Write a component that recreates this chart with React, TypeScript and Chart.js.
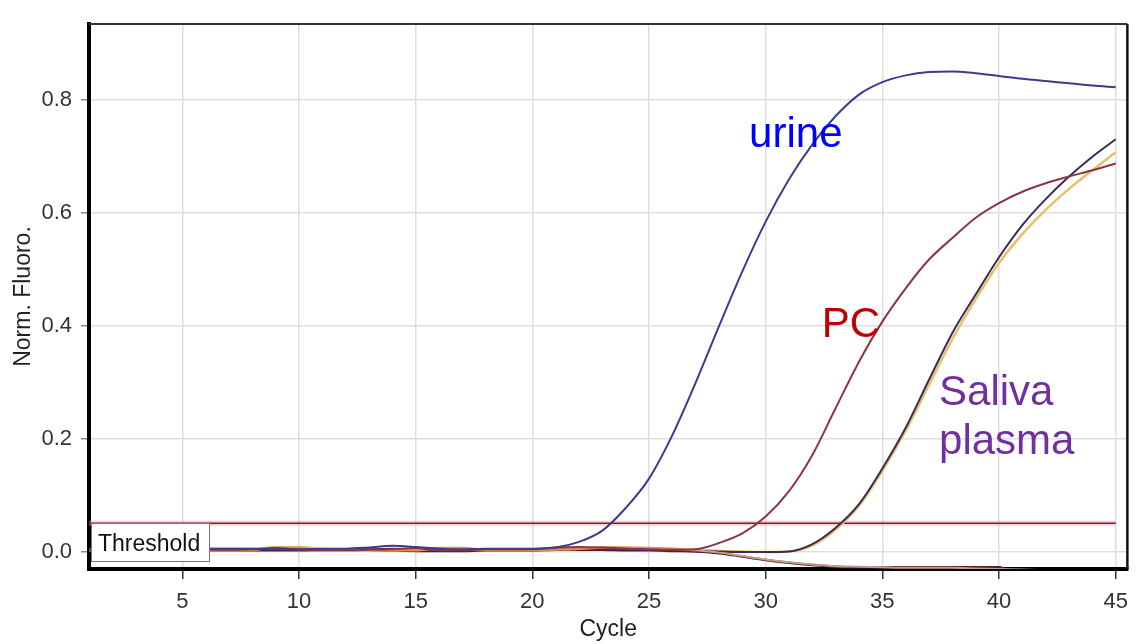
import React, { useEffect, useRef } from "react";
import { Chart, registerables } from "chart.js";

Chart.register(...registerables);

// ---------- data ----------
const cycles = [
  1, 2, 3, 4, 5, 6, 7, 8, 9, 10, 11, 12, 13, 14, 15, 16, 17, 18, 19, 20, 21, 22, 23,
  24, 25, 26, 27, 28, 29, 30, 31, 32, 33, 34, 35, 36, 37, 38, 39, 40, 41, 42, 43, 44, 45,
];

const urine = [
  0.005, 0.006, 0.006, 0.006, 0.006, 0.006, 0.006, 0.006, 0.005, 0.005, 0.006, 0.006, 0.008, 0.011, 0.009,
  0.006, 0.005, 0.006, 0.006, 0.006, 0.008, 0.018, 0.038, 0.078, 0.13, 0.207, 0.3, 0.4, 0.497, 0.585,
  0.66, 0.722, 0.772, 0.81, 0.832, 0.844, 0.85, 0.851, 0.848, 0.843, 0.838, 0.834, 0.83, 0.826, 0.823,
];

const pc = [
  0.004, 0.004, 0.004, 0.004, 0.004, 0.004, 0.004, 0.005, 0.007, 0.004, 0.003, 0.003, 0.004, 0.005, 0.007,
  0.003, 0.003, 0.005, 0.005, 0.005, 0.008, 0.009, 0.008, 0.006, 0.005, 0.004, 0.005, 0.016, 0.033, 0.063,
  0.108, 0.172, 0.255, 0.337, 0.408, 0.467, 0.518, 0.556, 0.592, 0.618, 0.638, 0.653, 0.665, 0.676, 0.688,
];

const saliva = [
  0.004, 0.004, 0.004, 0.004, 0.004, 0.004, 0.004, 0.004, 0.004, 0.004, 0.005, 0.005, 0.005, 0.006, 0.005,
  0.004, 0.004, 0.005, 0.005, 0.005, 0.006, 0.006, 0.005, 0.004, 0.004, 0.003, 0.002, 0.001, 0.0, 0.0,
  0.001, 0.014, 0.043, 0.085, 0.148, 0.22, 0.305, 0.388, 0.456, 0.522, 0.579, 0.625, 0.665, 0.7, 0.731,
];

const plasma = [
  0.005, 0.005, 0.005, 0.005, 0.006, 0.006, 0.006, 0.006, 0.008, 0.009, 0.006, 0.005, 0.005, 0.005, 0.005,
  0.004, 0.004, 0.005, 0.005, 0.005, 0.005, 0.006, 0.007, 0.007, 0.006, 0.005, 0.004, 0.002, 0.001, 0.0,
  0.001, 0.012, 0.04, 0.082, 0.144, 0.215, 0.296, 0.377, 0.448, 0.512, 0.563, 0.606, 0.643, 0.676, 0.708,
];

const ntcTan = [
  0.003, 0.003, 0.003, 0.003, 0.003, 0.003, 0.003, 0.004, 0.008, 0.007, 0.003, 0.003, 0.003, 0.003, 0.003,
  0.007, 0.007, 0.004, 0.004, 0.004, 0.005, 0.006, 0.008, 0.008, 0.007, 0.006, 0.003, -0.001, -0.007, -0.013,
  -0.018, -0.022, -0.025, -0.026, -0.027, -0.028, -0.028, -0.028, -0.029, -0.03, -0.031, -0.032, -0.032, -0.032, -0.032,
];

const ntcDark = [
  0.003, 0.003, 0.003, 0.003, 0.003, 0.003, 0.003, 0.003, 0.003, 0.003, 0.004, 0.004, 0.004, 0.003, 0.002,
  0.002, 0.002, 0.003, 0.003, 0.003, 0.004, 0.004, 0.004, 0.003, 0.003, 0.002, 0.001, -0.002, -0.008, -0.014,
  -0.019, -0.023, -0.026, -0.027, -0.027, -0.027, -0.027, -0.027, -0.027, -0.027, -0.045, -0.045, -0.045, -0.045, -0.045,
];

const thresholdValue = 0.051;
const thresholdSpan = [1, 45];

const xTickValues = [5, 10, 15, 20, 25, 30, 35, 40, 45];
const yTickValues = [0, 0.2, 0.4, 0.6, 0.8];

const labelTexts = ["urine", "PC", "Saliva", "plasma"];
const thresholdLabel = "Threshold";

// ---------- chart ----------
const FONT = '"Liberation Sans", Arial, sans-serif';

const toPoints = (vals: number[]) => vals.map((v, i) => ({ x: cycles[i], y: v }));

const overlayPlugin = {
  id: "overlay",
  afterDatasetsDraw(chart: any) {
    const { ctx, chartArea: a, scales } = chart;
    const x = scales.x;
    const y = scales.y;
    ctx.save();

    // top & right frame
    ctx.strokeStyle = "#333";
    ctx.lineWidth = 2;
    ctx.beginPath();
    ctx.moveTo(a.left, a.top);
    ctx.lineTo(a.right, a.top);
    ctx.stroke();
    ctx.strokeStyle = "#111";
    ctx.lineWidth = 2.5;
    ctx.beginPath();
    ctx.moveTo(a.right, a.top);
    ctx.lineTo(a.right, a.bottom);
    ctx.stroke();

    // threshold label box
    const bl = a.left + 2;
    const br = x.getPixelForValue(6.16);
    const bt = y.getPixelForValue(thresholdValue) + 1;
    const bb = y.getPixelForValue(-0.018);
    ctx.fillStyle = "#fff";
    ctx.fillRect(bl, bt, br - bl, bb - bt);
    ctx.strokeStyle = "#777";
    ctx.lineWidth = 1;
    ctx.strokeRect(Math.round(bl) + 0.5, Math.round(bt) - 0.5, Math.round(br - bl), Math.round(bb - bt));
    ctx.fillStyle = "#111";
    ctx.font = `23px ${FONT}`;
    ctx.textBaseline = "alphabetic";
    ctx.textAlign = "left";
    ctx.fillText(thresholdLabel, bl + 7, y.getPixelForValue(0.0024));

    // curve annotations
    ctx.font = `42px ${FONT}`;
    ctx.fillStyle = "#0000ff";
    ctx.fillText(labelTexts[0], x.getPixelForValue(29.29), y.getPixelForValue(0.717));
    ctx.fillStyle = "#c00000";
    ctx.fillText(labelTexts[1], x.getPixelForValue(32.4), y.getPixelForValue(0.3805));
    ctx.fillStyle = "#7030a0";
    ctx.fillText(labelTexts[2], x.getPixelForValue(37.43), y.getPixelForValue(0.26));
    ctx.fillText(labelTexts[3], x.getPixelForValue(37.43), y.getPixelForValue(0.1735));

    ctx.restore();
  },
};

export default function App() {
  const canvasRef = useRef<HTMLCanvasElement | null>(null);

  useEffect(() => {
    if (!canvasRef.current) return;
    const line = (label: string, data: number[], color: string, width = 2, extra: any = {}) => ({
      label,
      data: toPoints(data),
      borderColor: color,
      backgroundColor: color,
      borderWidth: width,
      pointRadius: 0,
      cubicInterpolationMode: "monotone" as const,
      fill: false,
      ...extra,
    });

    const chart = new Chart(canvasRef.current, {
      type: "line",
      data: {
        datasets: [
          line("urine", urine, "#3c3c8e"),
          line("PC", pc, "#8e3446"),
          line("NTC", ntcTan, "#e0904a", 2.5, {
            segment: {
              borderColor: (c: any) => (c.p0.parsed.x >= 27 ? "#bf9f8f" : undefined),
              borderWidth: (c: any) => (c.p0.parsed.x >= 27 ? 2 : undefined),
            },
          }),
          line("Saliva", saliva, "#3a2c58"),
          line("plasma", plasma, "#e6c06a", 2.5),
          line("NTC dark", ntcDark, "#5a1830", 2.5),
          {
            label: "Threshold",
            data: thresholdSpan.map((c) => ({ x: c, y: thresholdValue })),
            borderColor: "#8b1a2a",
            borderWidth: 1.6,
            pointRadius: 0,
            fill: false,
          },
          {
            label: "Threshold glow",
            data: thresholdSpan.map((c) => ({ x: c, y: thresholdValue })),
            borderColor: "rgba(240,150,165,0.45)",
            borderWidth: 5,
            pointRadius: 0,
            fill: false,
          },
        ],
      },
      options: {
        animation: false,
        responsive: false,
        maintainAspectRatio: false,
        layout: { padding: { top: 24, right: 6, bottom: 0, left: 0 } },
        plugins: {
          legend: { display: false },
          tooltip: { enabled: false },
        },
        scales: {
          x: {
            type: "linear",
            min: 1,
            max: 45.5,
            afterFit: (s: any) => {
              s.height = 75;
            },
            afterBuildTicks: (s: any) => {
              s.ticks = xTickValues.map((v) => ({ value: v }));
            },
            ticks: {
              color: "#333",
              font: { family: FONT, size: 22 },
              padding: 10,
              maxRotation: 0,
              callback: (v: any) => String(v),
            },
            grid: {
              color: "#dedede",
              lineWidth: 1.5,
              tickLength: 10,
              tickColor: "#333",
              tickWidth: 1.5,
            },
            border: { color: "#000", width: 4 },
            title: {
              display: true,
              text: "Cycle",
              color: "#222",
              font: { family: FONT, size: 23 },
              padding: { top: 0, bottom: 1 },
            },
          },
          y: {
            type: "linear",
            min: -0.03,
            max: 0.935,
            afterFit: (s: any) => {
              s.width = 89;
            },
            afterBuildTicks: (s: any) => {
              s.ticks = yTickValues.map((v) => ({ value: v }));
            },
            ticks: {
              color: "#333",
              font: { family: FONT, size: 22 },
              padding: 9,
              callback: (v: any) => Number(v).toFixed(1),
            },
            grid: {
              color: "#dedede",
              lineWidth: 1.5,
              tickLength: 8,
              tickColor: "#888",
              tickWidth: 1.5,
            },
            border: { color: "#000", width: 4 },
            title: {
              display: true,
              text: "Norm. Fluoro.",
              color: "#222",
              font: { family: FONT, size: 23 },
              padding: { top: 10, bottom: 0 },
            },
          },
        },
      },
      plugins: [overlayPlugin],
    });
    return () => chart.destroy();
  }, []);

  return (
    <div style={{ position: "fixed", left: 0, top: 0, width: 1138, height: 644, background: "#fff" }}>
      <canvas ref={canvasRef} width={1138} height={644} style={{ display: "block" }} />
    </div>
  );
}
